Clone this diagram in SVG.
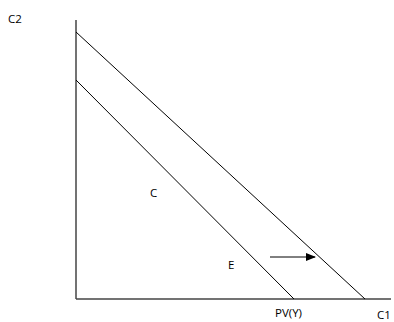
<svg xmlns="http://www.w3.org/2000/svg" width="394" height="322" viewBox="0 0 394 322">
<style>
text{font-family:"Open Sans","DejaVu Sans",sans-serif;font-size:11.5px;fill:#000}
.ax{stroke:#444;stroke-width:1.5;fill:none}
.ln{stroke:#000;stroke-width:1;fill:none}
</style>
<defs><marker id="ah" markerWidth="10" markerHeight="8" refX="9" refY="4" orient="auto" markerUnits="userSpaceOnUse"><path d="M0,0 L10,4 L0,8 Z" fill="#000"/></marker></defs>
<rect width="394" height="322" fill="#fff"/>
<g id="axes">
<line class="ax" x1="76" y1="20" x2="76" y2="299"/>
<line class="ax" x1="76" y1="299" x2="391" y2="299"/>
</g>
<g id="connectors">
<line class="ln" x1="76" y1="32" x2="365" y2="299"/>
<line class="ln" x1="76" y1="80" x2="294" y2="299"/>
<line class="ln" x1="270" y1="257" x2="315" y2="257" marker-end="url(#ah)"/>
</g>
<g id="labels">
<text x="8" y="23">C2</text>
<text x="150" y="197">C</text>
<text x="228" y="269">E</text>
<text x="275" y="317">PV(Y)</text>
<text x="377" y="319">C1</text>
</g>
</svg>
